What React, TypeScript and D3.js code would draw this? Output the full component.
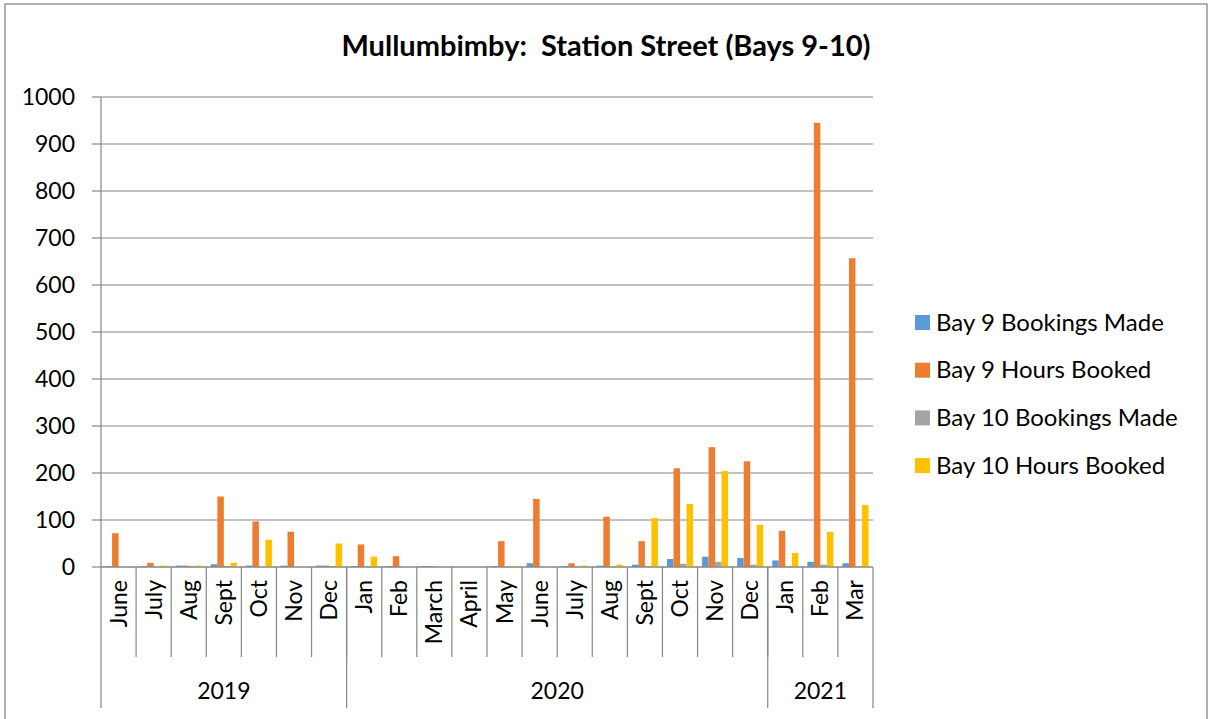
import React from "react";
import * as d3 from "d3";

const months = ["June","July","Aug","Sept","Oct","Nov","Dec","Jan","Feb","March","April","May","June","July","Aug","Sept","Oct","Nov","Dec","Jan","Feb","Mar"];
const years = [
  { label: "2019", count: 7 },
  { label: "2020", count: 12 },
  { label: "2021", count: 3 },
];
const seriesNames = ["Bay 9 Bookings Made","Bay 9 Hours Booked","Bay 10 Bookings Made","Bay 10 Hours Booked"];
const seriesColors = ["#5B9BD5","#ED7D31","#A5A5A5","#FFC000"];
const bay9Bookings = [2,2,3,6,3,3,3,2,2,2,0,2,8,2,3,5,17,22,19,14,11,8];
const bay9Hours = [72,9,3,150,97,75,3,48,23,2,0,55,145,8,107,55,210,255,225,77,945,657];
const bay10Bookings = [0,1,2,2,0,0,2,1,0,0,0,1,0,1,1,2,7,11,5,2,5,2];
const bay10Hours = [0,3,3,9,58,0,50,22,0,0,0,2,0,3,5,104,134,204,90,30,75,132];
const yTicks = [0,100,200,300,400,500,600,700,800,900,1000];
const title = "Mullumbimby:  Station Street (Bays 9-10)";

const allSeries = [bay9Bookings, bay9Hours, bay10Bookings, bay10Hours];

export default function App() {
  const W = 1208, H = 719;
  const left = 101, right = 873, top = 97, bottom = 567;
  const x = d3.scaleBand<number>().domain(months.map((_, i) => i)).range([left, right]).paddingInner(0).paddingOuter(0);
  const y = d3.scaleLinear().domain([0, 1000]).range([bottom, top]);
  const bw = x.bandwidth();
  const inner = d3.scaleBand<number>().domain([0,1,2,3]).range([0, bw]).paddingOuter(0.7).paddingInner(0);
  const font = "Lato, 'Open Sans', sans-serif";
  const axisColor = "#868686";

  let acc = 0;
  const yearBounds = years.map((yr) => {
    const s = acc; acc += yr.count;
    return { ...yr, x0: x(s)!, x1: s + yr.count >= months.length ? right : x(s + yr.count)! };
  });

  return (
    <svg width={W} height={H} style={{ position: "absolute", left: 0, top: 0, background: "#fff" }} fontFamily={font}>
      <rect x={5} y={4} width={1202} height={730} fill="#fff" stroke="#888" strokeWidth={1.3} />
      <text x={606} y={56} textAnchor="middle" fontSize={29} fontWeight="bold" fill="#000" style={{ whiteSpace: "pre" }}>{title}</text>
      {yTicks.map((t) => (
        <g key={t}>
          <line x1={left} x2={right} y1={y(t)} y2={y(t)} stroke={axisColor} strokeWidth={1.2} />
          <line x1={92} x2={left} y1={y(t)} y2={y(t)} stroke={axisColor} strokeWidth={1.2} />
          <text x={75} y={y(t) + 8} textAnchor="end" fontSize={23} fill="#000">{t}</text>
        </g>
      ))}
      {allSeries.map((vals, si) => (
        <g key={si} fill={seriesColors[si]}>
          {vals.map((v, i) => (
            <rect key={i} x={x(i)! + inner(si)!} y={y(v)} width={inner.bandwidth()} height={bottom - y(v)} />
          ))}
        </g>
      ))}
      <line x1={left} x2={left} y1={top} y2={708} stroke={axisColor} strokeWidth={1.2} />
      <line x1={left} x2={right} y1={bottom} y2={bottom} stroke={axisColor} strokeWidth={1.2} />
      {months.map((m, i) => i > 0 ? (
        <line key={"s" + i} x1={x(i)} x2={x(i)} y1={bottom} y2={657} stroke={axisColor} strokeWidth={1.2} />
      ) : null)}
      {yearBounds.map((yb, i) => (
        <line key={"yb" + i} x1={yb.x1} x2={yb.x1} y1={bottom} y2={708} stroke={axisColor} strokeWidth={1.2} />
      ))}
      {months.map((m, i) => (
        <text key={"m" + i} transform={`translate(${x(i)! + bw / 2 + 8},580) rotate(-90)`} textAnchor="end" fontSize={23} fill="#000">{m}</text>
      ))}
      {yearBounds.map((yb) => (
        <text key={yb.label} x={(yb.x0 + yb.x1) / 2} y={699} textAnchor="middle" fontSize={23} fill="#000">{yb.label}</text>
      ))}
      {seriesNames.map((n, i) => (
        <g key={n} transform={`translate(915,${322 + i * 47.7})`}>
          <rect x={0} y={-7} width={15} height={15} fill={seriesColors[i]} />
          <text x={21} y={8.5} fontSize={24} fill="#000">{n}</text>
        </g>
      ))}
    </svg>
  );
}
